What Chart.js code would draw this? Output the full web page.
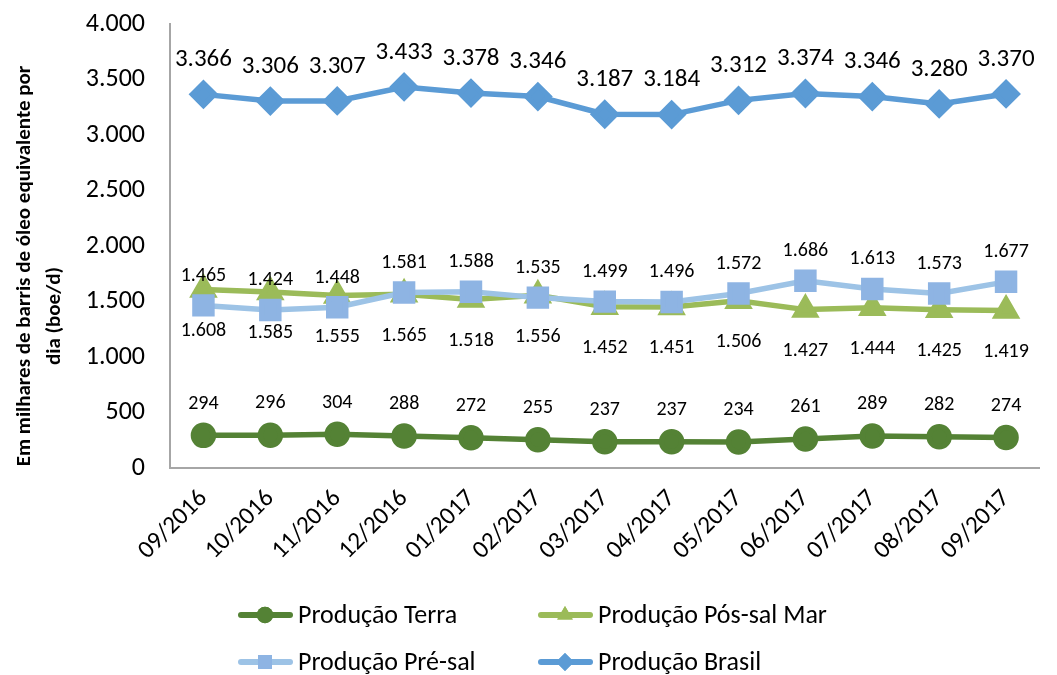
<!DOCTYPE html>
<html>
<head>
<meta charset="utf-8">
<script src="https://cdn.jsdelivr.net/npm/chart.js@4/dist/chart.umd.min.js"></script>
<style>
html,body{margin:0;padding:0;background:#fff;}
#wrap{width:1057px;height:675px;position:relative;}
</style>
</head>
<body>
<div id="wrap"><canvas id="c" width="1057" height="675"></canvas></div>
<script>
const categories = ['09/2016','10/2016','11/2016','12/2016','01/2017','02/2017','03/2017','04/2017','05/2017','06/2017','07/2017','08/2017','09/2017'];
const terra = [294,296,304,288,272,255,237,237,234,261,289,282,274];
const posSal = [1608,1585,1555,1565,1518,1556,1452,1451,1506,1427,1444,1425,1419];
const preSal = [1465,1424,1448,1581,1588,1535,1499,1496,1572,1686,1613,1573,1677];
const brasil = [3366,3306,3307,3433,3378,3346,3187,3184,3312,3374,3346,3280,3370];
const yTicks = [0,500,1000,1500,2000,2500,3000,3500,4000];
const seriesNames = ['Produção Terra','Produção Pós-sal Mar','Produção Pré-sal','Produção Brasil'];
const yTitleLines = ['Em milhares de barris de óleo equivalente por','dia (boe/d)'];

const FONT = 'Carlito, Lato, sans-serif';
const fmt = v => v >= 1000 ? Math.floor(v/1000) + '.' + String(v%1000).padStart(3,'0') : String(v);

const labelPlugin = {
  id: 'valueLabels',
  afterDatasetsDraw(chart) {
    const ctx = chart.ctx;
    ctx.save();
    ctx.fillStyle = '#000';
    ctx.textAlign = 'center';
    ctx.textBaseline = 'alphabetic';
    chart.data.datasets.forEach((ds, i) => {
      const meta = chart.getDatasetMeta(i);
      const cfg = ds.lbl;
      ctx.font = cfg.size + 'px ' + FONT;
      meta.data.forEach((pt, j) => {
        ctx.fillText(fmt(ds.data[j]), pt.x, pt.y + cfg.dy + 0.316 * cfg.size);
      });
    });
    ctx.restore();
  }
};

const yTitlePlugin = {
  id: 'yTitle',
  afterDraw(chart) {
    const ctx = chart.ctx;
    ctx.save();
    ctx.fillStyle = '#000';
    ctx.font = 'bold 21px ' + FONT;
    ctx.textAlign = 'center';
    ctx.textBaseline = 'middle';
    const pos = [[25, 266], [55, 316]];
    yTitleLines.forEach((t, i) => {
      ctx.save();
      ctx.translate(pos[i][0], pos[i][1]);
      ctx.rotate(-Math.PI / 2);
      ctx.fillText(t, 0, 0);
      ctx.restore();
    });
    ctx.restore();
  }
};

const legendPlugin = {
  id: 'customLegend',
  afterDraw(chart) {
    const ctx = chart.ctx;
    const items = [
      {ds:0, x:238, y:615},
      {ds:1, x:538, y:615},
      {ds:2, x:238, y:662},
      {ds:3, x:538, y:662}
    ];
    ctx.save();
    items.forEach(it => {
      const ds = chart.data.datasets[it.ds];
      ctx.strokeStyle = ds.borderColor;
      ctx.lineWidth = 6;
      ctx.lineCap = 'round';
      ctx.beginPath();
      ctx.moveTo(it.x + 3, it.y);
      ctx.lineTo(it.x + 52, it.y);
      ctx.stroke();
      ctx.fillStyle = ds.pointBackgroundColor;
      ctx.beginPath();
      Chart.helpers.drawPoint(ctx, {
        pointStyle: ds.pointStyle,
        radius: ds.pointRadius * 0.82,
        borderWidth: 0,
        rotation: 0
      }, it.x + 27, it.y);
      ctx.fill();
      ctx.fillStyle = '#000';
      ctx.font = '26px ' + FONT;
      ctx.textAlign = 'left';
      ctx.textBaseline = 'alphabetic';
      ctx.fillText(seriesNames[it.ds], it.x + 60, it.y + 0.316 * 26);
    });
    ctx.restore();
  }
};

new Chart(document.getElementById('c'), {
  type: 'line',
  data: {
    labels: categories,
    datasets: [
      {label: seriesNames[0], data: terra, borderColor:'#548235', backgroundColor:'#548235',
       pointBackgroundColor:'#548235', pointBorderColor:'#548235', pointStyle:'circle', pointRadius:10,
       borderWidth:5.5, order:4, lbl:{size:20, dy:-33}},
      {label: seriesNames[1], data: posSal, borderColor:'#9BBB59', backgroundColor:'#9BBB59',
       pointBackgroundColor:'#9BBB59', pointBorderColor:'#9BBB59', pointStyle:'triangle', pointRadius:11,
       borderWidth:5.5, order:3, lbl:{size:20, dy:40}},
      {label: seriesNames[2], data: preSal, borderColor:'#9DC3E6', backgroundColor:'#8EB4E3',
       pointBackgroundColor:'#8EB4E3', pointBorderColor:'#8EB4E3', pointStyle:'rect', pointRadius:12,
       borderWidth:5.5, order:2, lbl:{size:20, dy:-31}},
      {label: seriesNames[3], data: brasil, borderColor:'#5B9BD5', backgroundColor:'#5B9BD5',
       pointBackgroundColor:'#5B9BD5', pointBorderColor:'#5B9BD5', pointStyle:'rectRot', pointRadius:11,
       borderWidth:5.5, order:1, lbl:{size:25, dy:-36}}
    ]
  },
  options: {
    responsive: false,
    animation: false,
    layout: {padding: {top: 24, right: 1, bottom: 100, left: 0}},
    plugins: {legend: {display:false}, tooltip: {enabled:false}},
    elements: {line: {tension: 0}, point: {borderWidth: 0, hoverRadius: 10}},
    scales: {
      x: {
        offset: true,
        grid: {display:false, drawTicks:false},
        border: {display:true, color:'#a6a6a6', width:2},
        ticks: {color:'#000', font:{family:FONT, size:25}, minRotation:45, maxRotation:45, padding:16, autoSkip:false},
        afterFit(s){ s.height = 107; s.paddingLeft = 0; s.paddingRight = 0; }
      },
      y: {
        min: 0, max: 4000,
        afterBuildTicks(s){ s.ticks = yTicks.map(v => ({value:v})); },
        grid: {display:false, drawTicks:false},
        border: {display:true, color:'#a6a6a6', width:2},
        ticks: {color:'#000', font:{family:FONT, size:26}, padding:25, callback: v => fmt(v)},
        afterFit(s){ s.width = 170; s.paddingTop = 0; s.paddingBottom = 0; }
      }
    }
  },
  plugins: [labelPlugin, yTitlePlugin, legendPlugin]
});
</script>
</body>
</html>
